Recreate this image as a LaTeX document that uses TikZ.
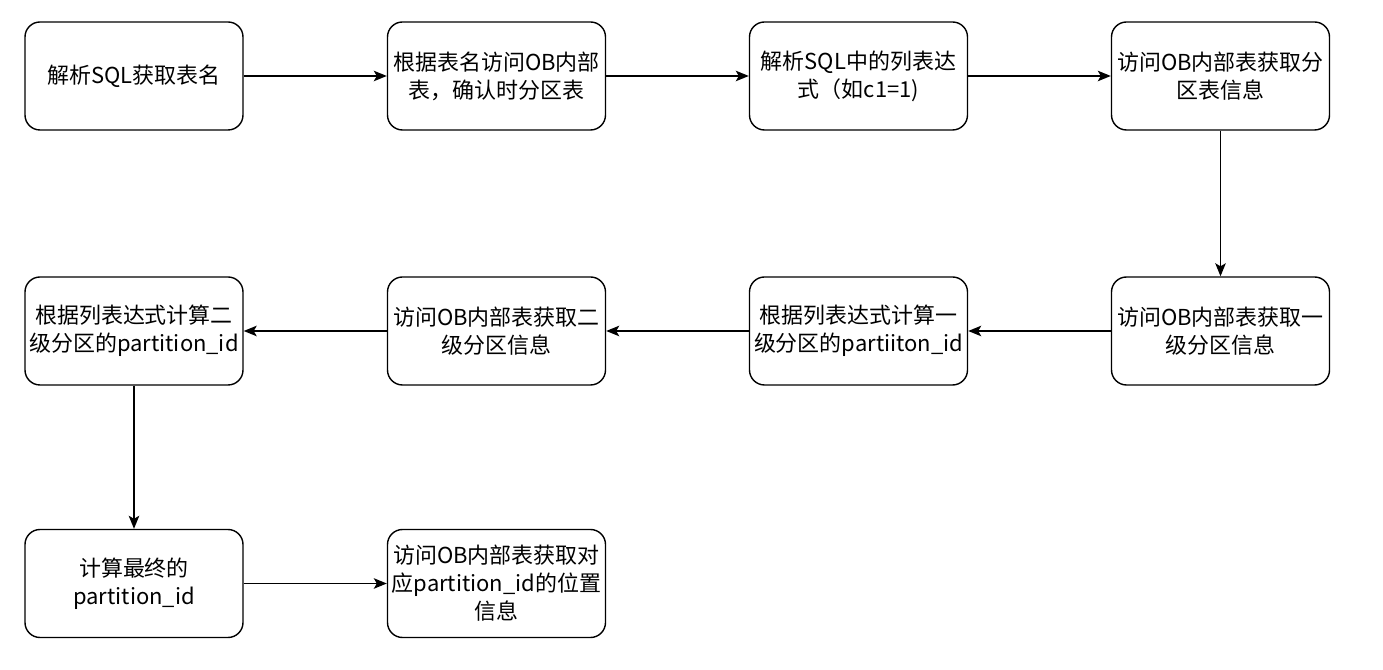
\documentclass[tikz,border=0pt]{standalone}
\usepackage{fontspec}
\newfontfamily\cjk{Noto Sans CJK SC}
\usepackage{tikz}
\usetikzlibrary{arrows.meta}

\tikzset{
  stepbox/.style={draw, line width=0.8pt, rounded corners=0.3cm,
    minimum width=4.36cm, minimum height=2.16cm, text width=4.36cm,
    align=center, inner sep=0pt, font=\cjk\fontsize{12.5}{16}\selectfont},
  flow/.style={line width=0.85pt, -{Stealth[length=0.26cm, width=0.21cm, inset=0.06cm]}}
}

\begin{document}
\begin{tikzpicture}
    \useasboundingbox (0,0) rectangle (27.66,13.4);
    % Zeile 1: links -> rechts
    \node[stepbox] (parse)   at (2.68,11.88)  {解析SQL获取表名};
    \node[stepbox] (check)   at (9.93,11.88)  {根据表名访问OB内部\\表，确认时分区表};
    \node[stepbox] (expr)    at (17.17,11.88) {解析SQL中的列表达\\式（如c1=1)};
    \node[stepbox] (info)    at (24.41,11.88) {访问OB内部表获取分\\区表信息};
    % Zeile 2: rechts -> links
    \node[stepbox] (lvlone)  at (24.41,6.78)  {访问OB内部表获取一\\级分区信息};
    \node[stepbox] (idone)   at (17.17,6.78)  {根据列表达式计算一\\级分区的partiiton\_id};
    \node[stepbox] (lvltwo)  at (9.93,6.78)   {访问OB内部表获取二\\级分区信息};
    \node[stepbox] (idtwo)   at (2.68,6.78)   {根据列表达式计算二\\级分区的partition\_id};
    % Zeile 3
    \node[stepbox] (final)   at (2.68,1.73)   {计算最终的\\partition\_id};
    \node[stepbox] (locate)  at (9.93,1.73)   {访问OB内部表获取对\\应partition\_id的位置\\信息};

    \draw[flow] (parse)  -- (check);
    \draw[flow] (check)  -- (expr);
    \draw[flow] (expr)   -- (info);
    \draw[flow] (info)   -- (lvlone);
    \draw[flow] (lvlone) -- (idone);
    \draw[flow] (idone)  -- (lvltwo);
    \draw[flow] (lvltwo) -- (idtwo);
    \draw[flow] (idtwo)  -- (final);
    \draw[flow] (final)  -- (locate);
  \end{tikzpicture}
\end{document}
